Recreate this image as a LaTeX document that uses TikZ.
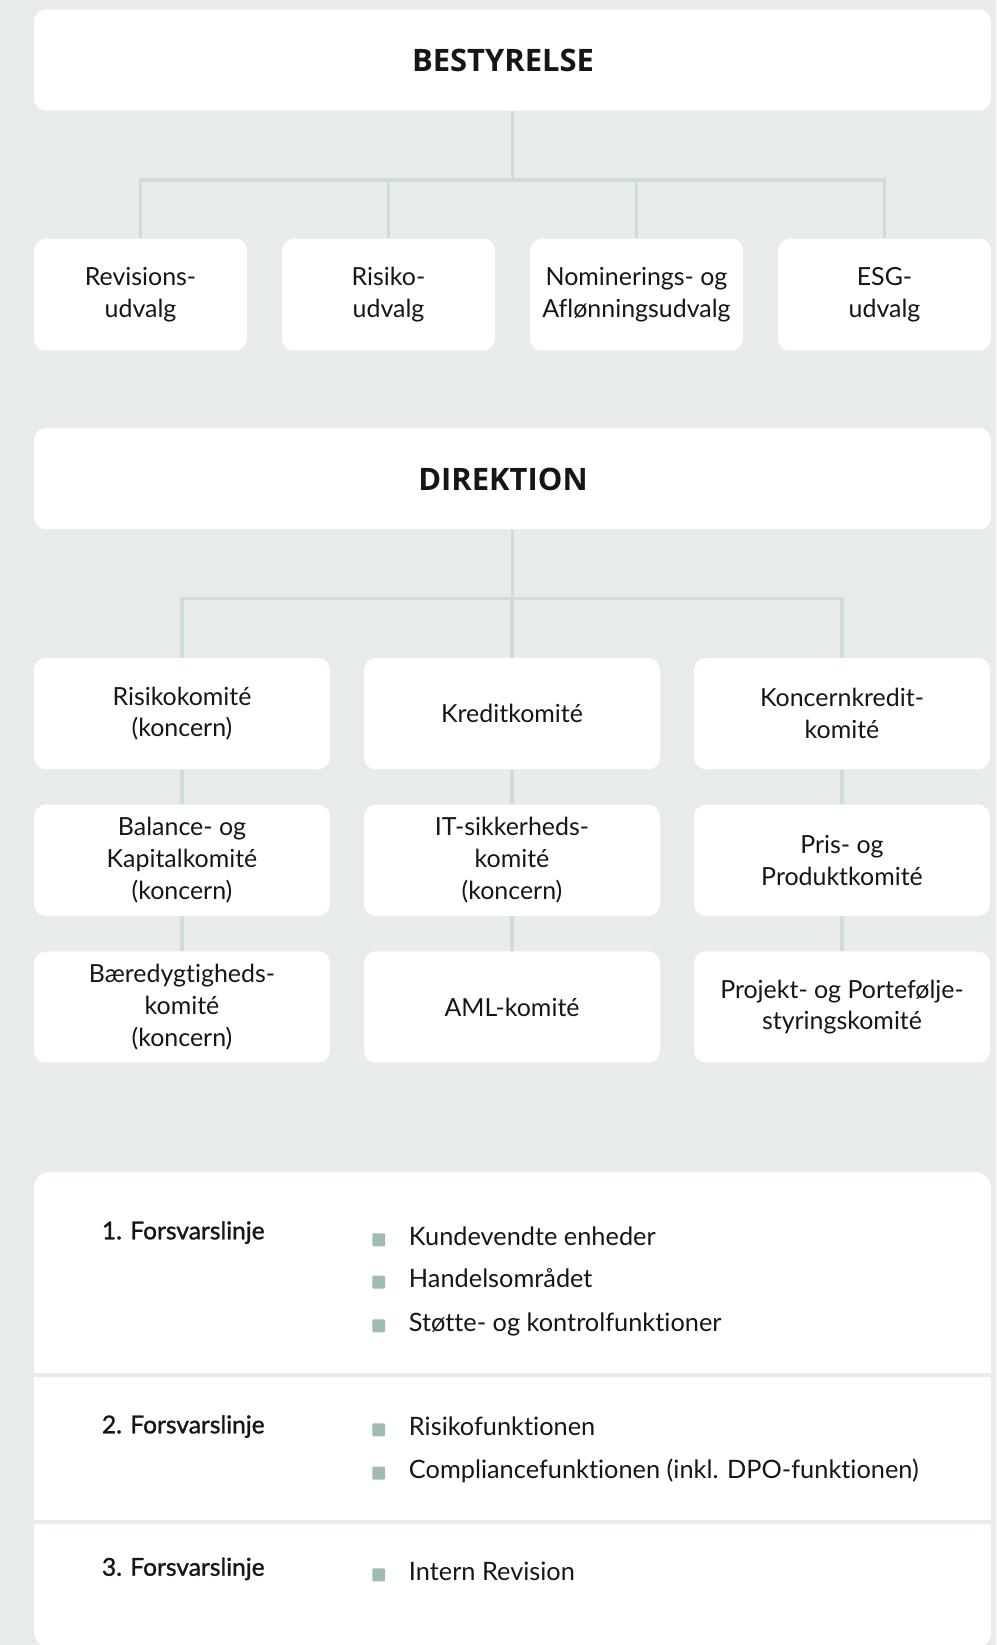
\documentclass[tikz,border=0pt]{standalone}
\usepackage{fontspec}
\setmainfont{Lato}[Ligatures=NoCommon]
\newfontfamily\headfont{Open Sans}
\newfontfamily\semifont{Lato}[Ligatures=NoCommon, FakeBold=1.2]

\definecolor{bgc}{HTML}{E7ECE9}
\definecolor{linec}{HTML}{CDDED8}
\definecolor{bulc}{HTML}{A0BBB3}
\definecolor{txt}{HTML}{161616}

\begin{document}
\begin{tikzpicture}[x=0.75pt,y=-0.75pt,
  topbox/.style={fill=white, rounded corners=9pt, inner sep=0pt,
    minimum width=717.75pt, minimum height=76pt},
  headtext/.style={inner sep=0pt, text=txt,
    font=\headfont\bfseries\fontsize{23.2pt}{28pt}\selectfont},
  ubox/.style={fill=white, rounded corners=9pt, inner sep=0pt, align=center,
    minimum width=159.75pt, minimum height=84pt, text=txt,
    font=\fontsize{18.7pt}{23.8pt}\selectfont},
  cbox/.style={ubox, minimum width=222pt, minimum height=83.5pt},
  conn/.style={draw=linec, line width=2.6pt},
  lbl/.style={anchor=base west, inner sep=0pt, text=txt,
    font=\semifont\fontsize{18.4pt}{22pt}\selectfont},
  item/.style={anchor=base west, inner sep=0pt, text=txt,
    font=\fontsize{19pt}{22pt}\selectfont}]

% canvas
\fill[bgc] (0,0) rectangle (996,1645);
\useasboundingbox (0,0) rectangle (996,1645);

% ---- board and its committees ----
\node[topbox] (board) at (512.5,60) {};
\node[headtext] (boardlabel) at (503,60) {BESTYRELSE};

\node[ubox] (rev)  at (140.5,294.7) {Revisions-\\udvalg};
\node[ubox] (risk) at (388.5,294.7) {Risiko-\\udvalg};
\node[ubox] (nom)  at (636.5,294.7) {Nominerings- og\\Aflønningsudvalg};
\node[ubox] (esg)  at (884.5,294.7) {ESG-\\udvalg};

\coordinate (busA) at (512,180);
\draw[conn] (board.south) -- (board.south |- busA);
\draw[conn] (rev.north) |- (esg.north |- busA) -- (esg.north);
\draw[conn] (risk.north) -- (risk.north |- busA);
\draw[conn] (nom.north) -- (nom.north |- busA);

% ---- executive board and its committees ----
\node[topbox] (dir) at (512.5,478.7) {};
\node[headtext] (dirlabel) at (503,479) {DIREKTION};

\node[cbox] (c11) at (182,713.7) {Risikokomité\\(koncern)};
\node[cbox] (c12) at (512,713.7) {Kreditkomité};
\node[cbox] (c13) at (842,713.7) {Koncernkredit-\\komité};
\node[cbox] (c21) at (182,860.3) {Balance- og\\Kapitalkomité\\(koncern)};
\node[cbox] (c22) at (512,860.3) {IT-sikkerheds-\\komité\\(koncern)};
\node[cbox] (c23) at (842,860.3) {Pris- og\\Produktkomité};
\node[cbox] (c31) at (182,1007) {Bæredygtigheds-\\komité\\(koncern)};
\node[cbox] (c32) at (512,1007) {AML-komité};
\node[cbox] (c33) at (842,1007) {Projekt- og Portefølje-\\styringskomité};

\coordinate (busB) at (512,598.7);
\draw[conn] (dir.south) -- (dir.south |- busB);
\draw[conn] (c11.north) |- (c13.north |- busB) -- (c13.north);
\draw[conn] (c12.north) -- (c12.north |- busB);
\foreach \col in {1,2,3}{
  \draw[conn] (c1\col.south) -- (c2\col.north);
  \draw[conn] (c2\col.south) -- (c3\col.north);
}

% ---- lines of defence panel ----
\fill[white, rounded corners=12pt] (34,1172) rectangle (991,1648);
\fill[bgc] (34,1372.7) rectangle (991,1377.3);
\fill[bgc] (34,1520) rectangle (991,1524);

\node[lbl] (l1) at (101.7,1239.3) {1. Forsvarslinje};
\node[lbl] (l2) at (101.7,1433.3) {2. Forsvarslinje};
\node[lbl] (l3) at (101.7,1575.7) {3. Forsvarslinje};

\node[item] (i11) at (408.7,1245)   {Kundevendte enheder};
\node[item] (i12) at (408.7,1287.3) {Handelsområdet};
\node[item] (i13) at (408.7,1331)   {Støtte- og kontrolfunktioner};
\node[item] (i21) at (408.7,1435)   {Risikofunktionen};
\node[item] (i22) at (408.7,1478.3) {Compliancefunktionen (inkl. DPO-funktionen)};
\node[item] (i31) at (408.7,1580)   {Intern Revision};

\foreach \b in {1245,1287.3,1331,1435,1478.3,1580}
  \fill[bulc, rounded corners=0.8pt] (372.3,\b-11.7) rectangle (385,\b+1.3);

\end{tikzpicture}
\end{document}
